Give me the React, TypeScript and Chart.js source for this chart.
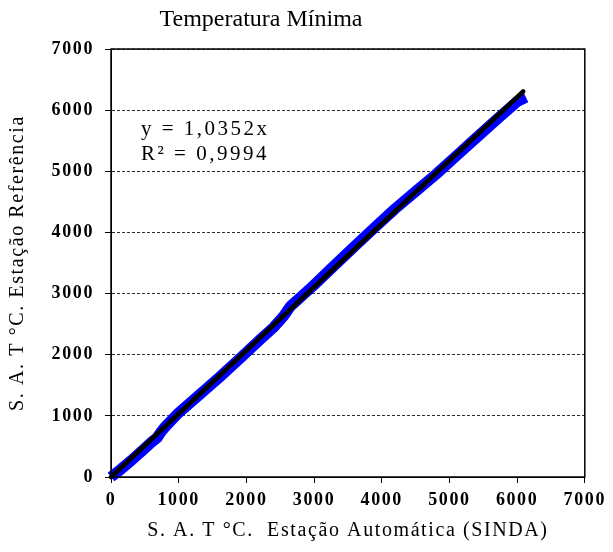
import React, { useEffect, useRef } from "react";
import { Chart, registerables } from "chart.js";

Chart.register(...registerables);

// ---- Data ----
const TITLE = "Temperatura Mínima";
const X_TITLE = "S. A. T °C.  Estação Automática (SINDA)";
const Y_TITLE = "S. A. T °C. Estação Referência";
const EQUATION_LINES = ["y = 1,0352x", "R² = 0,9994"];

// Accumulated temperature: automatic station (x) vs reference station (y)
const autoX = [0, 150, 300, 450, 600, 680, 740, 800, 1000, 1300, 1600, 1900, 2200, 2400, 2550, 2650, 2800, 3000, 3300, 3600, 3900, 4200, 4500, 4800, 5100, 5400, 5700, 6000, 6130];
const refY = [0, 130, 270, 420, 570, 640, 740, 820, 1050, 1340, 1630, 1935, 2245, 2445, 2630, 2790, 2940, 3140, 3460, 3775, 4085, 4390, 4670, 4950, 5250, 5550, 5850, 6140, 6210];

// Linear trendline (y = 1,0352x) endpoints
const trendX = [0, 6090];
const trendY = [0, 6305];

const AXIS_MIN = 0;
const AXIS_MAX = 7000;
const AXIS_STEP = 1000;

const FONT = "'Liberation Serif', 'Times New Roman', serif";

const textPlugin = {
  id: "textPlugin",
  beforeUpdate(chart: any) {
    chart.ctx.letterSpacing = "1.6px";
  },
  beforeDraw(chart: any) {
    const ctx = chart.ctx;
    ctx.save();
    ctx.fillStyle = "#ffffff";
    ctx.fillRect(0, 0, chart.width, chart.height);
    ctx.restore();
    ctx.letterSpacing = "1.6px";
  },
  afterDraw(chart: any) {
    const { ctx, chartArea } = chart;
    ctx.save();
    ctx.setLineDash([]);
    ctx.strokeStyle = "#000000";
    ctx.lineWidth = 1.5;
    ctx.strokeRect(chartArea.left, chartArea.top, chartArea.right - chartArea.left, chartArea.bottom - chartArea.top);

    ctx.fillStyle = "#000000";
    ctx.letterSpacing = "0px";
    ctx.font = `24px ${FONT}`;
    ctx.textAlign = "center";
    ctx.textBaseline = "alphabetic";
    ctx.fillText(TITLE, 261, 26);

    ctx.letterSpacing = "2.5px";
    ctx.font = `21px ${FONT}`;
    ctx.textAlign = "left";
    ctx.fillText(EQUATION_LINES[0], chartArea.left + 30, chartArea.top + 86);
    ctx.fillText(EQUATION_LINES[1], chartArea.left + 30, chartArea.top + 111);
    ctx.restore();
  },
};

export default function App() {
  const canvasRef = useRef<HTMLCanvasElement | null>(null);

  useEffect(() => {
    if (!canvasRef.current) return;
    const blueData = autoX.map((x, i) => ({ x, y: refY[i] }));
    const trendData = trendX.map((x, i) => ({ x, y: trendY[i] }));
    const plain = (v: any) => String(v);

    const chart = new Chart(canvasRef.current, {
      type: "scatter",
      data: {
        datasets: [
          {
            label: "Trend",
            data: trendData,
            showLine: true,
            borderColor: "#000000",
            backgroundColor: "#000000",
            borderWidth: 4.5,
            borderCapStyle: "round",
            pointRadius: 0,
            order: 0,
            clip: 10,
          },
          {
            label: "S.A.T",
            data: blueData,
            showLine: true,
            borderColor: "#0000ff",
            backgroundColor: "#0000ff",
            borderWidth: 11,
            borderJoinStyle: "round",
            borderCapStyle: "butt",
            pointRadius: 0,
            order: 1,
            clip: 10,
          },
        ],
      },
      options: {
        responsive: false,
        animation: false,
        events: [],
        layout: { padding: { top: 49, right: 25, left: 0, bottom: 0 } },
        plugins: {
          legend: { display: false },
          tooltip: { enabled: false },
          title: { display: false },
        },
        scales: {
          x: {
            type: "linear",
            position: "bottom",
            min: AXIS_MIN,
            max: AXIS_MAX,
            ticks: {
              stepSize: AXIS_STEP,
              callback: plain,
              color: "#000000",
              font: { family: FONT, size: 18, weight: "bold" },
              padding: 7,
              maxRotation: 0,
            },
            grid: {
              display: true,
              drawOnChartArea: false,
              drawTicks: true,
              tickLength: 6,
              tickColor: "#000000",
              tickWidth: 1,
            },
            border: { display: true, color: "#000000", width: 1 },
            title: {
              display: true,
              text: X_TITLE,
              color: "#000000",
              font: { family: FONT, size: 20 },
              padding: { top: 0, bottom: 9 },
            },
            afterFit(scale: any) {
              scale.height = 75;
            },
          },
          y: {
            type: "linear",
            min: AXIS_MIN,
            max: AXIS_MAX,
            ticks: {
              stepSize: AXIS_STEP,
              callback: plain,
              color: "#000000",
              font: { family: FONT, size: 18, weight: "bold" },
              padding: 11,
            },
            grid: {
              display: true,
              drawOnChartArea: true,
              color: "#303030",
              lineWidth: 1,
              drawTicks: true,
              tickLength: 6,
              tickColor: "#000000",
              tickWidth: 1,
              tickBorderDash: [],
            },
            border: { display: true, color: "#000000", width: 1, dash: [3, 2] },
            title: {
              display: true,
              text: Y_TITLE,
              color: "#000000",
              font: { family: FONT, size: 20 },
              padding: { top: 6, bottom: 0 },
            },
            afterFit(scale: any) {
              scale.width = 111;
            },
          },
        },
      },
      plugins: [textPlugin],
    } as any);

    return () => chart.destroy();
  }, []);

  return (
    <div style={{ position: "fixed", left: 0, top: 0, width: 613, height: 552, background: "#fff" }}>
      <canvas ref={canvasRef} width={613} height={552} style={{ width: 613, height: 552, display: "block" }} />
    </div>
  );
}
